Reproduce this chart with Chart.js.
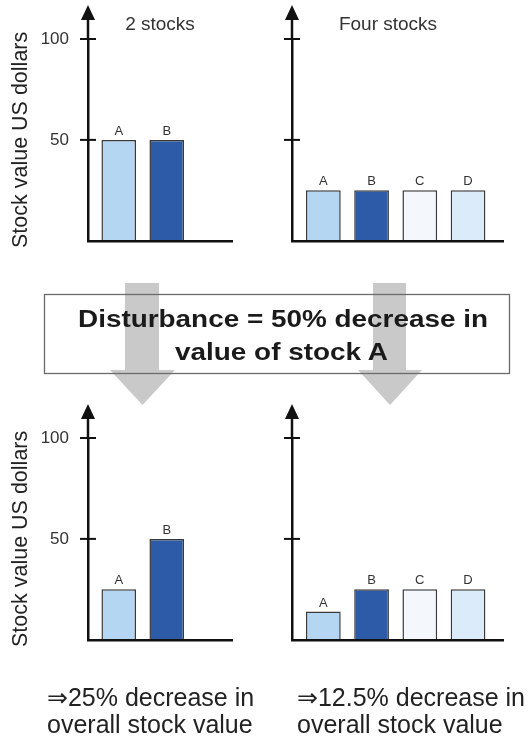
<!DOCTYPE html>
<html><head><meta charset="utf-8">
<script src="https://cdn.jsdelivr.net/npm/chart.js@4.4.1/dist/chart.umd.min.js"></script>
<style>
html,body{margin:0;padding:0;background:#fff;}
#page{position:relative;width:530px;height:737px;overflow:hidden;background:#fff;}
canvas{position:absolute;}
svg{position:absolute;left:0;top:0;}
</style></head><body>
<div id="page">
<canvas id="tl" width="240" height="270" style="left:0;top:0"></canvas>
<canvas id="tr" width="277" height="270" style="left:236px;top:0"></canvas>
<canvas id="bl" width="240" height="270" style="left:0;top:399px"></canvas>
<canvas id="br" width="277" height="270" style="left:236px;top:399px"></canvas>
<svg width="530" height="737">
  <rect x="44.5" y="294.5" width="465" height="79" fill="#fff"/>
  <rect x="125" y="283" width="34" height="87" fill="#c9c9c9"/>
  <polygon points="110,370 175,370 142.5,405" fill="#c9c9c9"/>
  <rect x="373" y="283" width="33" height="87" fill="#c9c9c9"/>
  <polygon points="358,370 422,370 390,405" fill="#c9c9c9"/>
  <rect x="44.5" y="294.5" width="465" height="79" fill="none" stroke="#6a6a6a" stroke-width="1.3"/>
  <g font-family="'Liberation Sans', Arial, 'DejaVu Sans', sans-serif">
    <text id="box1" x="78" y="327" font-weight="bold" font-size="24" fill="#1a1a1a" textLength="410" lengthAdjust="spacingAndGlyphs"></text>
    <text id="box2" x="175" y="360" font-weight="bold" font-size="24" fill="#1a1a1a" textLength="213" lengthAdjust="spacingAndGlyphs"></text>
    <text id="capL1" x="47" y="706" font-size="25" fill="#222"></text>
    <text id="capL2" x="47" y="733" font-size="25" fill="#222"></text>
    <text id="capR1" x="297" y="706" font-size="25" fill="#222"></text>
    <text id="capR2" x="297" y="733" font-size="25" fill="#222"></text>
  </g>
</svg>
</div>
<script>
// ---- data ----
const stocksTwo = ['A', 'B'];
const stocksFour = ['A', 'B', 'C', 'D'];
const beforeTwo = [50, 50];
const beforeFour = [25, 25, 25, 25];
const afterTwo = [25, 50];
const afterFour = [14, 25, 25, 25];
const yTickValues = [50, 100];
const yTickLabels = ['50', '100'];
const chartTitleTwo = '2 stocks';
const chartTitleFour = 'Four stocks';
const yAxisTitle = 'Stock value US dollars';
const boxLines = ['Disturbance = 50% decrease in', 'value of stock A'];
const captionTwo = ['\u21D225% decrease in', 'overall stock value'];
const captionFour = ['\u21D212.5% decrease in', 'overall stock value'];

const barColors = ['#b5d6f2', '#2d5ba8', '#f4f8fd', '#dcebfa'];

document.getElementById('box1').textContent = boxLines[0];
document.getElementById('box2').textContent = boxLines[1];
document.getElementById('capL1').textContent = captionTwo[0];
document.getElementById('capL2').textContent = captionTwo[1];
document.getElementById('capR1').textContent = captionFour[0];
document.getElementById('capR2').textContent = captionFour[1];

Chart.defaults.font.family = "'Liberation Sans', Arial, sans-serif";

function makeDecor(cats) {
  return {
    id: 'decor',
    afterDraw(chart) {
      const {ctx, chartArea, scales} = chart;
      const y = scales.y;
      const x0 = chartArea.left;
      ctx.save();
      ctx.strokeStyle = '#111';
      ctx.fillStyle = '#111';
      ctx.lineWidth = 2.5;
      ctx.beginPath();
      ctx.moveTo(x0, chartArea.top + 1);
      ctx.lineTo(x0, chartArea.top - 21);
      ctx.stroke();
      ctx.beginPath();
      ctx.moveTo(x0, chartArea.top - 34);
      ctx.lineTo(x0 - 7, chartArea.top - 19);
      ctx.lineTo(x0 + 7, chartArea.top - 19);
      ctx.closePath();
      ctx.fill();
      ctx.lineWidth = 2;
      y.ticks.forEach(t => {
        const py = y.getPixelForValue(t.value);
        ctx.beginPath();
        ctx.moveTo(x0 - 8, py);
        ctx.lineTo(x0 + 8, py);
        ctx.stroke();
      });
      const meta = chart.getDatasetMeta(0);
      ctx.font = "13px 'Liberation Sans', Arial, sans-serif";
      ctx.fillStyle = '#333';
      ctx.textAlign = 'center';
      ctx.textBaseline = 'alphabetic';
      meta.data.forEach((bar, i) => ctx.fillText(cats[i], bar.x, bar.y - 5));
      ctx.restore();
    }
  };
}

function makeChart(id, cats, vals, cfg) {
  return new Chart(document.getElementById(id), {
    type: 'bar',
    data: {
      datasets: [{
        data: vals.map((v, i) => ({x: i, y: v})),
        backgroundColor: barColors.slice(0, vals.length),
        borderColor: '#3a3a3a',
        borderWidth: 1.5
      }]
    },
    options: {
      responsive: false,
      animation: false,
      events: [],
      layout: {padding: cfg.padding},
      plugins: {
        legend: {display: false},
        tooltip: {enabled: false},
        title: cfg.title ? {
          display: true, text: cfg.title, fullSize: cfg.titleFull,
          color: '#333', font: {size: 19, weight: 'normal'},
          padding: {top: 13.5, bottom: 2.7}
        } : {display: false}
      },
      scales: {
        x: {
          type: 'linear', min: cfg.xMin, max: cfg.xMax, offset: false,
          grid: {display: false, drawTicks: false, offset: false},
          ticks: {display: false},
          border: {display: true, color: '#111', width: 2.5, z: 1},
          afterBuildTicks: s => { s.ticks = cats.map((c, i) => ({value: i})); }
        },
        y: {
          type: 'linear', min: 0, max: 100,
          afterBuildTicks: s => { s.ticks = yTickValues.map(v => ({value: v})); },
          ticks: {
            callback: v => yTickLabels[yTickValues.indexOf(v)],
            color: '#333', font: {size: 17}, padding: 19
          },
          grid: {display: false, drawTicks: false},
          border: {display: true, color: '#111', width: 2.5, z: 1},
          title: cfg.yTitle ? {
            display: true, text: cfg.yTitle, color: '#222',
            font: {size: 21.5}, padding: {top: 8.4, bottom: 0}
          } : {display: false},
          afterFit: s => { s.width = cfg.yWidth; }
        }
      }
    },
    plugins: [makeDecor(cats)]
  });
}

makeChart('tl', stocksTwo, beforeTwo, {
  padding: {left: 0, right: 8, top: 0, bottom: 7},
  title: chartTitleTwo, titleFull: false, yTitle: yAxisTitle, yWidth: 88,
  xMin: -0.64, xMax: 2.36
});
makeChart('tr', stocksFour, beforeFour, {
  padding: {left: 37, right: 10, top: 0, bottom: 7},
  title: chartTitleFour, titleFull: true, yTitle: null, yWidth: 19,
  xMin: -0.65, xMax: 3.725
});
makeChart('bl', stocksTwo, afterTwo, {
  padding: {left: 0, right: 8, top: 39, bottom: 7},
  title: null, yTitle: yAxisTitle, yWidth: 88,
  xMin: -0.64, xMax: 2.36
});
makeChart('br', stocksFour, afterFour, {
  padding: {left: 37, right: 10, top: 39, bottom: 7},
  title: null, yTitle: null, yWidth: 19,
  xMin: -0.65, xMax: 3.725
});
</script>
</body></html>
